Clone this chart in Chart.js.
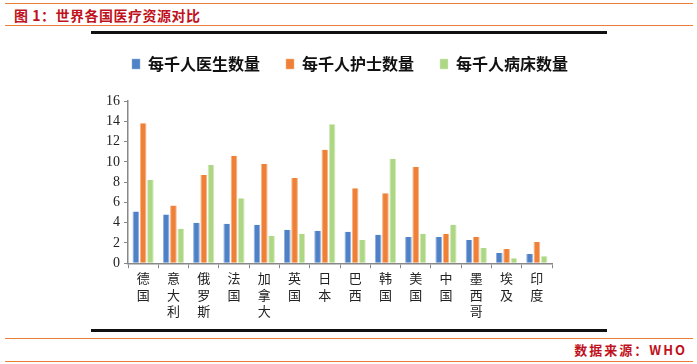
<!DOCTYPE html>
<html>
<head>
<meta charset="utf-8">
<script src="https://cdn.jsdelivr.net/npm/chart.js@4"></script>
<style>
  body { margin: 0; width: 697px; height: 364px; background: #fff; position: relative; overflow: hidden; font-family: "Noto Sans CJK SC", sans-serif; }
  .rule { position: absolute; left: 5px; width: 688px; height: 0; border-top: 1.5px solid #E8803A; }
  .frame { position: absolute; left: 91px; width: 516px; height: 0; border-top: 3px solid #111; }
  #title { position: absolute; left: 14px; top: 5px; font-size: 14px; font-weight: bold; color: #C0121C; letter-spacing: 0.5px; font-family: "Noto Sans CJK SC", serif; }
  #source { position: absolute; right: 10px; top: 340px; font-size: 13px; font-weight: bold; color: #C0121C; letter-spacing: 2px; font-family: "Noto Sans CJK SC", serif; }
  #wrap { position: absolute; left: 91px; top: 30px; width: 518px; height: 296px; }
</style>
</head>
<body>
<div class="rule" style="top:3px"></div>
<div id="title">图 1：世界各国医疗资源对比</div>
<div class="rule" style="top:25px"></div>
<div class="frame" style="top:31px"></div>
<div id="wrap"><canvas id="chartCanvas"></canvas></div>
<div class="frame" style="top:329px"></div>
<div class="rule" style="top:338px"></div>
<div id="source">数据来源：WHO</div>
<div class="rule" style="top:361px"></div>

<script>
// Countries and values per 1000 people
const countries = ['德国', '意大利', '俄罗斯', '法国', '加拿大', '英国', '日本', '巴西', '韩国', '美国', '中国', '墨西哥', '埃及', '印度'];
const doctors = [5.1, 4.8, 4.0, 3.9, 3.8, 3.3, 3.2, 3.1, 2.8, 2.6, 2.6, 2.3, 1.0, 0.9];
const nurses = [13.8, 5.7, 8.7, 10.6, 9.8, 8.4, 11.2, 7.4, 6.9, 9.5, 2.9, 2.6, 1.4, 2.1];
const beds = [8.2, 3.4, 9.7, 6.4, 2.7, 2.9, 13.7, 2.3, 10.3, 2.9, 3.8, 1.5, 0.5, 0.7];
const yTicks = [0, 2, 4, 6, 8, 10, 12, 14, 16];

// Vertical labels: one character per line
const verticalLabels = countries.map(name => name.split(''));

const chartCanvas = document.getElementById('chartCanvas');

// Extra space under the legend
const legendGap = {
  id: 'legendGap',
  afterInit(chart) {
    const fit = chart.legend.fit;
    chart.legend.fit = function() {
      fit.call(this);
      this.height += 19;
    };
  }
};

new Chart(chartCanvas.getContext('2d'), {
  type: 'bar',
  data: {
    labels: verticalLabels,
    datasets: [
      { label: '每千人医生数量', data: doctors, backgroundColor: '#4F81C7', borderColor: '#8FB0DE', borderWidth: { left: 1, right: 1 } },
      { label: '每千人护士数量', data: nurses, backgroundColor: '#EE8038', borderColor: '#F6B587', borderWidth: { left: 1, right: 1 } },
      { label: '每千人病床数量', data: beds, backgroundColor: '#AED785', borderColor: '#D3EBBC', borderWidth: { left: 1, right: 1 } }
    ]
  },
  plugins: [legendGap],
  options: {
    responsive: true,
    maintainAspectRatio: false,
    animation: false,
    layout: { padding: { top: 0, right: 0, left: 0, bottom: 5 } },
    datasets: { bar: { categoryPercentage: 0.72, barPercentage: 0.92 } },
    plugins: {
      tooltip: { enabled: false },
      legend: {
        position: 'top',
        labels: {
          boxWidth: 8,
          boxHeight: 10,
          padding: 26,
          color: '#111',
          font: { family: '"Noto Sans CJK SC", serif', size: 16, weight: 'bold' }
        }
      }
    },
    scales: {
      x: {
        grid: { display: true, drawOnChartArea: false, drawTicks: true, tickLength: 5, color: '#888', offset: true },
        border: { color: '#888', width: 1.5 },
        ticks: {
          color: '#222',
          maxRotation: 0,
          autoSkip: false,
          padding: 2,
          font: { family: '"Noto Sans CJK SC", serif', size: 13, lineHeight: 1.25 }
        }
      },
      y: {
        min: 0,
        max: 16,
        afterFit: scale => { scale.width = 37; },
        afterBuildTicks: scale => { scale.ticks = yTicks.map(v => ({ value: v })); },
        grid: { display: true, drawOnChartArea: false, drawTicks: true, tickLength: 4, color: '#888' },
        border: { color: '#888', width: 1.5 },
        ticks: {
          color: '#222',
          padding: 4,
          autoSkip: false,
          font: { family: '"Liberation Serif", serif', size: 14 }
        }
      },
      // empty right-hand space so the legend centres over the whole frame
      spacer: {
        position: 'right',
        afterFit: scale => { scale.width = 57; },
        grid: { display: false },
        border: { display: false },
        ticks: { display: false }
      }
    }
  }
});
</script>
</body>
</html>
